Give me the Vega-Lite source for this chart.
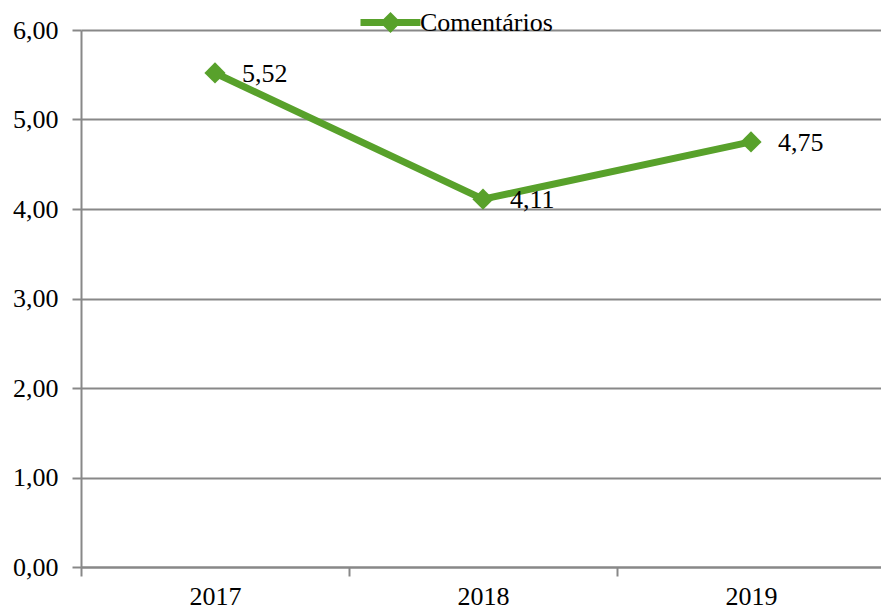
{
  "$schema": "https://vega.github.io/schema/vega-lite/v6.json",
  "autosize": "none",
  "padding": {"left": 81, "top": 30, "right": 0, "bottom": 42},
  "width": 804,
  "height": 537,
  "background": "white",
  "config": {
    "font": "'Liberation Serif', 'DejaVu Serif', serif",
    "view": {"stroke": null}
  },
  "data": {
    "values": [
      {"ano": "2017", "valor": 5.52, "serie": "Comentários"},
      {"ano": "2018", "valor": 4.11, "serie": "Comentários"},
      {"ano": "2019", "valor": 4.75, "serie": "Comentários"}
    ]
  },
  "transform": [
    {"calculate": "replace(format(datum.valor, '.2f'), '.', ',')", "as": "rotulo"}
  ],
  "encoding": {
    "x": {
      "field": "ano",
      "type": "ordinal",
      "scale": {"paddingInner": 0, "paddingOuter": 0},
      "axis": {
        "title": null,
        "labelAngle": 0,
        "labelFont": "'Liberation Serif', 'DejaVu Serif', serif",
        "labelFontSize": 26,
        "labelColor": "#000000",
        "labelPadding": 7,
        "tickBand": "extent",
        "tickSize": 9,
        "tickColor": "#888888",
        "tickWidth": 2,
        "domainColor": "#888888",
        "domainWidth": 2,
        "grid": false
      }
    },
    "y": {
      "field": "valor",
      "type": "quantitative",
      "scale": {"domain": [0, 6], "nice": false},
      "axis": {
        "title": null,
        "values": [0, 1, 2, 3, 4, 5, 6],
        "labelExpr": "replace(format(datum.value, '.2f'), '.', ',')",
        "labelFont": "'Liberation Serif', 'DejaVu Serif', serif",
        "labelFontSize": 26,
        "labelColor": "#000000",
        "labelPadding": 14,
        "tickSize": 9,
        "tickColor": "#888888",
        "tickWidth": 2,
        "domainColor": "#888888",
        "domainWidth": 2,
        "grid": true,
        "gridColor": "#888888",
        "gridWidth": 2
      }
    }
  },
  "layer": [
    {
      "mark": {"type": "line", "strokeWidth": 7, "color": "#58A12B"},
      "encoding": {
        "color": {
          "field": "serie",
          "type": "nominal",
          "scale": {"range": ["#58A12B"]},
          "legend": {
            "orient": "none",
            "legendX": 296,
            "legendY": -21,
            "title": null,
            "symbolType": "M-3,0L3,0M0,-0.55L0.55,0L0,0.55L-0.55,0Z",
            "symbolSize": 400,
            "symbolStrokeWidth": 7,
            "symbolFillColor": "#58A12B",
            "symbolStrokeColor": "#58A12B",
            "labelFont": "'Liberation Serif', 'DejaVu Serif', serif",
            "labelFontSize": 26,
            "labelColor": "#000000",
            "labelOffset": 16
          }
        }
      }
    },
    {
      "mark": {"type": "point", "shape": "diamond", "size": 450, "filled": true, "opacity": 1, "color": "#58A12B"}
    },
    {
      "mark": {"type": "text", "align": "left", "baseline": "middle", "dx": 27, "dy": 1, "fontSize": 26, "font": "'Liberation Serif', 'DejaVu Serif', serif", "color": "#000000"},
      "encoding": {"text": {"field": "rotulo"}}
    }
  ]
}
